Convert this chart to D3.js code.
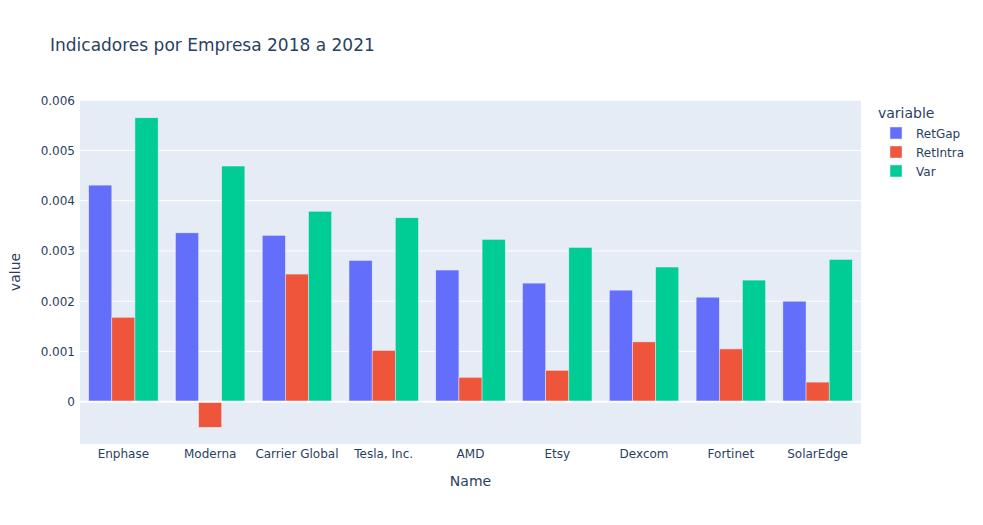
<!DOCTYPE html>
<html><head><meta charset="utf-8">
<script src="https://cdn.jsdelivr.net/npm/d3@7"></script>
<style>body{margin:0;background:#fff;} text{font-family:"DejaVu Sans",Verdana,Arial,sans-serif;}</style>
</head><body>
<svg id="c" width="983" height="525"></svg>
<script>
const categories = ["Enphase","Moderna","Carrier Global","Tesla, Inc.","AMD","Etsy","Dexcom","Fortinet","SolarEdge"];
const seriesNames = ["RetGap","RetIntra","Var"];
const retGap   = [0.00431,0.00336,0.00331,0.00281,0.00262,0.00236,0.00222,0.00208,0.00200];
const retIntra = [0.00168,-0.00051,0.00254,0.00102,0.000485,0.000625,0.00119,0.00105,0.00039];
const varVals  = [0.00565,0.00469,0.00379,0.00366,0.00323,0.00307,0.00268,0.00242,0.00283];
const yTicks = [0,0.001,0.002,0.003,0.004,0.005,0.006];
const colors = ["#636efa","#EF553B","#00cc96"];
const seriesVals = [retGap, retIntra, varVals];

const svg = d3.select("#c");
const L=80,R=861,T=100,B=444;
const fc="#2a3f5f";
svg.append("rect").attr("x",L).attr("y",T).attr("width",R-L).attr("height",B-T).attr("fill","#E5ECF6");

const x = d3.scaleBand().domain(categories).range([L,R]).paddingInner(0.2).paddingOuter(0.1);
const y = d3.scaleLinear().domain([-0.000842,0.006004]).range([B,T]);
const xs = d3.scaleBand().domain(seriesNames).range([0,x.bandwidth()]);

svg.append("g").selectAll("line").data(yTicks.filter(d=>d!==0)).join("line")
 .attr("x1",L).attr("x2",R).attr("y1",d=>y(d)).attr("y2",d=>y(d)).attr("stroke","#fff").attr("stroke-width",1);

seriesNames.forEach((s,i)=>{
  svg.append("g").selectAll("rect").data(categories).join("rect")
   .attr("x",c=>x(c)+xs(s))
   .attr("width",xs.bandwidth())
   .attr("y",(c,j)=>y(Math.max(0,seriesVals[i][j])))
   .attr("height",(c,j)=>Math.abs(y(seriesVals[i][j])-y(0)))
   .attr("fill",colors[i]).attr("stroke","#E5ECF6").attr("stroke-width",0.5);
});
svg.append("line").attr("x1",L).attr("x2",R).attr("y1",y(0)).attr("y2",y(0)).attr("stroke","#fff").attr("stroke-width",2);

const ya = d3.axisLeft(y).tickValues(yTicks).tickSize(0).tickPadding(4).tickFormat(d=>d===0?"0":d3.format(".3f")(d));
const yg = svg.append("g").attr("transform",`translate(${L-1},0)`).call(ya);
yg.select(".domain").remove();
yg.selectAll("text").attr("fill",fc).style("font-size","12px");

const xa = d3.axisBottom(x).tickSize(0).tickPadding(5);
const xg = svg.append("g").attr("transform",`translate(0,${B})`).call(xa);
xg.select(".domain").remove();
xg.selectAll("text").attr("fill",fc).style("font-size","12px");

svg.append("text").attr("x",50).attr("y",51).attr("fill",fc).style("font-size","17px").text("Indicadores por Empresa 2018 a 2021");
svg.append("text").attr("x",(L+R)/2).attr("y",486).attr("text-anchor","middle").attr("fill",fc).style("font-size","14px").text("Name");
svg.append("text").attr("transform",`translate(20,${(T+B)/2}) rotate(-90)`).attr("text-anchor","middle").attr("fill",fc).style("font-size","14px").text("value");

svg.append("text").attr("x",878).attr("y",118).attr("fill",fc).style("font-size","14px").text("variable");
seriesNames.forEach((s,i)=>{
  const yy = 133 + i*19;
  svg.append("rect").attr("x",890).attr("y",yy-6).attr("width",12).attr("height",12).attr("fill",colors[i]).attr("stroke","#E5ECF6").attr("stroke-width",0.5);
  svg.append("text").attr("x",916).attr("y",yy+4.5).attr("fill",fc).style("font-size","12px").text(s);
});
</script>
</body></html>
